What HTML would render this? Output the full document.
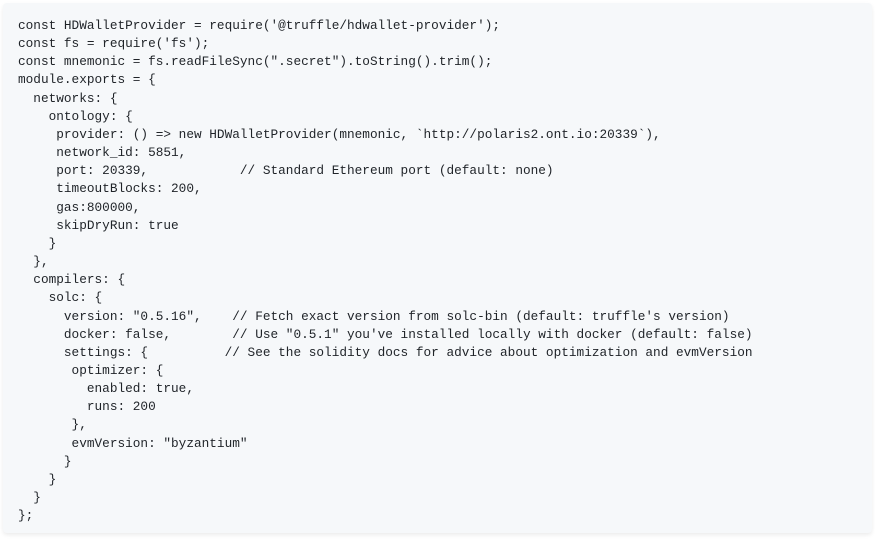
<!DOCTYPE html>
<html><head><meta charset="utf-8"><style>
html,body{margin:0;padding:0;background:#fff;width:875px;height:540px;overflow:hidden}
.box{position:absolute;left:3px;top:3px;width:869px;height:530px;background:#f6f8fa;border-radius:4px;box-shadow:0 2px 4px rgba(0,0,0,0.08)}
pre{position:absolute;left:18px;top:17px;margin:0;font-family:"Liberation Mono",monospace;font-size:12.75px;line-height:18.15px;color:#1f2328;white-space:pre}
</style></head><body>
<div class="box"></div>
<pre>const HDWalletProvider = require('@truffle/hdwallet-provider');
const fs = require('fs');
const mnemonic = fs.readFileSync(".secret").toString().trim();
module.exports = {
  networks: {
    ontology: {
     provider: () =&gt; new HDWalletProvider(mnemonic, `http://polaris2.ont.io:20339`),
     network_id: 5851,
     port: 20339,            // Standard Ethereum port (default: none)
     timeoutBlocks: 200,
     gas:800000,
     skipDryRun: true
    }
  },
  compilers: {
    solc: {
      version: "0.5.16",    // Fetch exact version from solc-bin (default: truffle's version)
      docker: false,        // Use "0.5.1" you've installed locally with docker (default: false)
      settings: {          // See the solidity docs for advice about optimization and evmVersion
       optimizer: {
         enabled: true,
         runs: 200
       },
       evmVersion: "byzantium"
      }
    }
  }
};</pre>
</body></html>
